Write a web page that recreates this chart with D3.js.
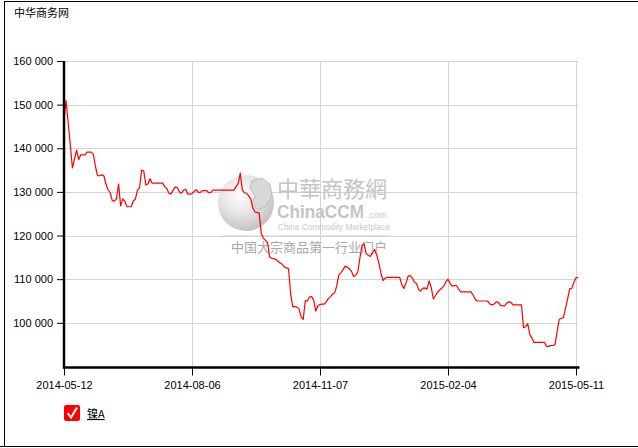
<!DOCTYPE html>
<html>
<head>
<meta charset="utf-8">
<script src="https://cdn.jsdelivr.net/npm/d3@7/dist/d3.min.js"></script>
<style>
  html, body { margin: 0; padding: 0; background: #fff; }
  svg { display: block; }
  text { font-family: "Liberation Sans", Arial, sans-serif; }
</style>
</head>
<body>
<svg id="chart" width="638" height="448"></svg>
<script>
// ---- data ----
const title = "中华商务网";
const seriesName = "镍A";
const xTickLabels = ["2014-05-12", "2014-08-06", "2014-11-07", "2015-02-04", "2015-05-11"];
const xTickIndex = [0, 61, 122, 183, 244];
const yTicks = [100000, 110000, 120000, 130000, 140000, 150000, 160000];
const values = [
  146500,150900,145800,140800,135500,137500,139600,137400,138500,138500,
  138500,139100,139100,139100,138600,135800,133700,133700,133900,133700,
  131800,130500,129800,128000,127900,128400,131800,126800,128400,127800,
  126600,126600,126600,127900,128300,130400,130900,135000,134800,131600,
  131800,133000,132000,132000,132000,132000,132000,132000,131200,130800,
  129700,129500,130400,131100,131000,130000,129700,130400,130600,129500,
  129500,129600,130100,130500,129900,129900,130300,130300,130300,129800,
  129900,130400,130400,130400,130400,130400,130400,130400,130400,130400,
  130400,130400,131200,131900,134300,130400,129800,129700,129100,128400,
  126300,125400,125300,125200,120500,119400,118900,118400,115100,114800,
  114700,114500,114100,113700,113400,112800,112600,112400,106700,103700,
  103700,103600,103200,101300,100800,105100,105000,105900,106000,105200,
  102700,103900,104200,104300,104300,104800,105600,106000,106600,106900,
  108500,111000,111500,112200,113000,112800,112400,111800,110600,110900,
  111600,114800,117700,118100,115800,115500,115200,116000,116800,115600,
  113800,111500,109700,110200,110400,110400,110400,110400,110400,110400,
  110400,108700,107900,109100,110700,110800,110300,109300,109000,107600,
  107300,107900,108000,107700,109600,108100,105500,106200,107000,107500,
  107900,108400,109400,110000,109000,108400,108500,108600,107800,107100,
  107100,107100,107100,107100,107100,106300,105400,105000,105000,105000,
  105000,105000,104900,104300,104100,104300,104800,104700,104000,103900,
  103900,104500,104800,104700,104100,104100,104100,104100,104100,98900,
  99100,99800,97300,96500,95500,95500,95500,95500,95500,95500,
  94600,94600,94800,94800,95000,98000,100800,101000,101200,103300,
  105500,107800,107900,109300,110300,110400
];

// ---- layout ----
const svg = d3.select("#chart");
const pLeft = 64, pRight = 578.2, pTop = 61, pBottom = 367.5;
const pxPerIdx = (576 - 64) / 244;

const x = d3.scaleLinear().domain([0, values.length - 1])
  .range([pLeft, pLeft + (values.length - 1) * pxPerIdx]);
const y = d3.scaleLinear().domain([100000, 160000]).range([322.8, pTop]);

const fmt = v => d3.format(",")(v).replace(/,/g, " ");

// frame
svg.append("line").attr("x1", 4).attr("x2", 638).attr("y1", 1.5).attr("y2", 1.5).attr("stroke", "#000");
svg.append("line").attr("x1", 4.5).attr("x2", 4.5).attr("y1", 1).attr("y2", 446).attr("stroke", "#000");
svg.append("line").attr("x1", 0).attr("x2", 638).attr("y1", 446.5).attr("y2", 446.5).attr("stroke", "#000");

// title
svg.append("text").attr("x", 14).attr("y", 17).attr("font-size", 11)
  .style("font-family", "'Noto Sans CJK SC', sans-serif").attr("fill", "#000").text(title);

// grid
const grid = svg.append("g");
grid.selectAll("line.h").data(yTicks).join("line")
  .attr("x1", pLeft).attr("x2", pRight)
  .attr("y1", d => Math.round(y(d)) + 0.5).attr("y2", d => Math.round(y(d)) + 0.5)
  .attr("stroke", "#d4d4d4").attr("stroke-width", 1);
grid.selectAll("line.v").data(xTickIndex.slice(1)).join("line")
  .attr("x1", d => Math.round(x(d)) + 0.5).attr("x2", d => Math.round(x(d)) + 0.5)
  .attr("y1", pTop).attr("y2", pBottom)
  .attr("stroke", "#d4d4d4").attr("stroke-width", 1);

// watermark
const wm = svg.append("g");
const defs = svg.append("defs");
const rg = defs.append("radialGradient").attr("id", "sph").attr("cx", "40%").attr("cy", "35%").attr("r", "65%");
rg.append("stop").attr("offset", "0%").attr("stop-color", "#ffffff");
rg.append("stop").attr("offset", "55%").attr("stop-color", "#e4e4e4");
rg.append("stop").attr("offset", "100%").attr("stop-color", "#c4c4c4");
wm.append("circle").attr("cx", 246).attr("cy", 203).attr("r", 28).attr("fill", "url(#sph)");
wm.append("path").attr("d", "M252,181 L262,178 L270,184 L272,196 L266,206 L258,210 L252,204 L255,196 L250,188 Z")
  .attr("fill", "#d8d8d8").attr("stroke", "#bdbdbd").attr("stroke-width", 1);
wm.append("text").attr("x", 277).attr("y", 197).attr("font-size", 22)
  .style("font-family", "'Noto Sans CJK TC', sans-serif").attr("fill", "#c4c4c4").text("中華商務網");
wm.append("text").attr("x", 277).attr("y", 218).attr("font-size", 18).attr("font-weight", "bold")
  .attr("textLength", 87).attr("lengthAdjust", "spacingAndGlyphs")
  .style("font-family", "'Liberation Sans', Arial, sans-serif").attr("fill", "#c4c4c4").text("ChinaCCM");
wm.append("text").attr("x", 367).attr("y", 218).attr("font-size", 9)
  .attr("fill", "#c4c4c4").text(".com");
wm.append("text").attr("x", 278).attr("y", 230).attr("font-size", 8.5)
  .attr("textLength", 112).attr("lengthAdjust", "spacingAndGlyphs")
  .attr("fill", "#c8c8c8").text("China Commodity Marketplace");
wm.append("line").attr("x1", 222).attr("x2", 390).attr("y1", 235.5).attr("y2", 235.5).attr("stroke", "#e6e6e6");
wm.append("text").attr("x", 231).attr("y", 252).attr("font-size", 13)
  .style("font-family", "'Noto Sans CJK SC', sans-serif").attr("fill", "#a8a8a8").text("中国大宗商品第一行业门户");

// series line
const line = d3.line().x((d, i) => x(i)).y(d => y(d));
svg.append("path").datum(values).attr("d", line)
  .attr("fill", "none").attr("stroke", "#ff0000").attr("stroke-width", 1.2)
  .attr("stroke-linejoin", "round");

// y axis
const yAxis = svg.append("g").attr("transform", `translate(${pLeft},0)`)
  .call(d3.axisLeft(y).tickValues(yTicks).tickFormat(fmt).tickSize(7).tickPadding(4));
yAxis.select(".domain").remove();
yAxis.selectAll("text").attr("font-size", 11).attr("fill", "#000")
  .style("font-family", "'Liberation Sans', Arial, sans-serif");
yAxis.selectAll("line").attr("stroke", "#000");
svg.append("line").attr("x1", pLeft).attr("x2", pLeft).attr("y1", pTop).attr("y2", pBottom + 1)
  .attr("stroke", "#000").attr("stroke-width", 2.5);

// x axis
const xAxis = svg.append("g").attr("transform", `translate(0,${pBottom})`)
  .call(d3.axisBottom(x).tickValues(xTickIndex).tickFormat((d, i) => xTickLabels[i]).tickSize(8).tickPadding(6));
xAxis.select(".domain").remove();
xAxis.selectAll("text").attr("font-size", 11).attr("fill", "#000")
  .style("font-family", "'Liberation Sans', Arial, sans-serif");
xAxis.selectAll("line").attr("stroke", "#000");
svg.append("line").attr("x1", pLeft - 1).attr("x2", 579.5).attr("y1", pBottom).attr("y2", pBottom)
  .attr("stroke", "#000").attr("stroke-width", 2.5);

// legend
const lg = svg.append("g").attr("transform", "translate(64,405)");
lg.append("rect").attr("width", 16).attr("height", 16).attr("rx", 2).attr("fill", "#ff0000");
lg.append("path").attr("d", "M3.5,8 L7,12.5 L13,2.5").attr("fill", "none")
  .attr("stroke", "#fff").attr("stroke-width", 2);
lg.append("text").attr("x", 23).attr("y", 13).attr("font-size", 11)
  .style("font-family", "'Noto Sans CJK SC', sans-serif")
  .attr("text-decoration", "underline").attr("fill", "#000").text(seriesName);
</script>
</body>
</html>
